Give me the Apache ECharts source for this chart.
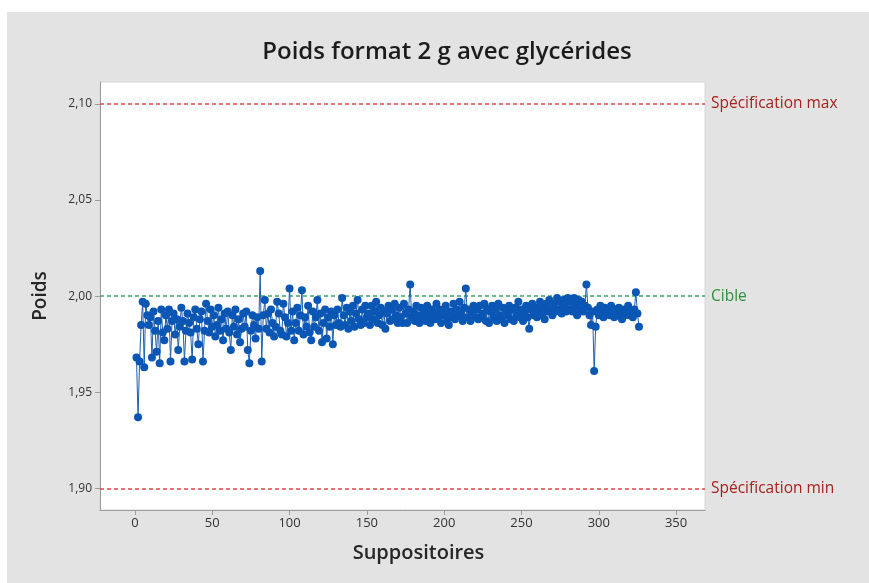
<!DOCTYPE html>
<html>
<head>
<meta charset="utf-8">
<script src="https://cdn.jsdelivr.net/npm/echarts@6/dist/echarts.min.js"></script>
<style>
  html, body { margin: 0; padding: 0; background: #ffffff; }
  #frame { position: absolute; left: 7px; top: 12px; width: 862px; height: 571px; background: #e3e3e3; }
  #chart { position: absolute; left: 0; top: 0; width: 869px; height: 583px; }
</style>
</head>
<body>
<div id="frame"></div>
<div id="chart"></div>
<script>
// Weight of each suppository (g), in production order
const weights = [
  1.968, 1.937, 1.966, 1.985, 1.997, 1.963, 1.996, 1.990, 1.985, 1.989,
  1.968, 1.992, 1.982, 1.971, 1.987, 1.965, 1.993, 1.981, 1.977, 1.990,
  1.983, 1.993, 1.966, 1.987, 1.991, 1.980, 1.988, 1.972, 1.984, 1.994,
  1.987, 1.966, 1.982, 1.991, 1.986, 1.981, 1.967, 1.989, 1.993, 1.983,
  1.975, 1.988, 1.992, 1.966, 1.982, 1.996, 1.987, 1.981, 1.993, 1.984,
  1.990, 1.979, 1.985, 1.994, 1.982, 1.988, 1.977, 1.991, 1.983, 1.992,
  1.981, 1.972, 1.990, 1.984, 1.993, 1.980, 1.988, 1.976, 1.983, 1.991,
  1.984, 1.992, 1.972, 1.965, 1.982, 1.990, 1.985, 1.978, 1.989, 1.983,
  2.013, 1.966, 1.990, 1.998, 1.983, 1.991, 1.981, 1.993, 1.986, 1.979,
  1.984, 1.997, 1.991, 1.982, 1.980, 1.996, 1.989, 1.979, 1.986, 2.004,
  1.982, 1.992, 1.977, 1.986, 1.994, 1.982, 1.990, 2.003, 1.980, 1.989,
  1.984, 1.995, 1.981, 1.977, 1.992, 1.984, 1.989, 1.998, 1.982, 1.991,
  1.976, 1.986, 1.993, 1.978, 1.989, 1.984, 1.992, 1.975, 1.990, 1.985,
  1.993, 1.986, 1.984, 1.999, 1.990, 1.985, 1.994, 1.983, 1.992, 1.987,
  1.995, 1.984, 1.991, 1.998, 1.988, 1.985, 1.993, 1.986, 1.995, 1.989,
  1.991, 1.985, 1.995, 1.988, 1.992, 1.997, 1.986, 1.990, 1.994, 1.985,
  1.992, 1.983, 1.991, 1.995, 1.987, 1.993, 1.988, 1.996, 1.990, 1.986,
  1.994, 1.989, 1.986, 1.996, 1.991, 1.986, 1.993, 2.006, 1.989, 1.992,
  1.987, 1.995, 1.990, 1.986, 1.994, 1.989, 1.992, 1.987, 1.995, 1.990,
  1.986, 1.993, 1.991, 1.988, 1.996, 1.989, 1.993, 1.986, 1.992, 1.990,
  1.995, 1.988, 1.985, 1.992, 1.989, 1.996, 1.988, 1.993, 1.990, 1.997,
  1.991, 1.987, 1.994, 2.004, 1.989, 1.993, 1.987, 1.992, 1.995, 1.989,
  1.993, 1.988, 1.995, 1.989, 1.991, 1.996, 1.987, 1.993, 1.986, 1.992,
  1.995, 1.989, 1.993, 1.987, 1.996, 1.990, 1.988, 1.994, 1.986, 1.993,
  1.990, 1.995, 1.988, 1.993, 1.987, 1.994, 1.990, 1.997, 1.989, 1.993,
  1.987, 1.991, 1.995, 1.989, 1.983, 1.993, 1.996, 1.990, 1.994, 1.989,
  1.993, 1.997, 1.990, 1.994, 1.988, 1.996, 1.992, 1.998, 1.993, 1.990,
  1.996, 1.992, 1.999, 1.993, 1.997, 1.991, 1.998, 1.995, 1.992, 1.999,
  1.993, 1.997, 1.992, 1.999, 1.995, 1.990, 1.998, 1.993, 1.997, 1.992,
  1.995, 2.006, 1.994, 1.990, 1.985, 1.992, 1.961, 1.984, 1.993, 1.990,
  1.995, 1.992, 1.989, 1.994, 1.991, 1.993, 1.990, 1.995, 1.992, 1.989,
  1.993, 1.990, 1.994, 1.991, 1.988, 1.993, 1.990, 1.992, 1.995, 1.990,
  1.992, 1.989, 1.993, 2.002, 1.991, 1.984
];

// Tick positions
const xTicks = [0, 50, 100, 150, 200, 250, 300, 350];
const yTicks = [1.90, 1.95, 2.00, 2.05, 2.10];

// Reference lines: specification limits and target
const specMax = 2.10;
const target = 2.00;
const specMin = 1.90;
const refLabels = ['Spécification max', 'Cible', 'Spécification min'];

const points = weights.map((w, i) => [i + 1, w]);
const fmtComma = v => v.toFixed(2).replace('.', ',');
const FONT = 'Open Sans';

const chart = echarts.init(document.getElementById('chart'), null, { renderer: 'canvas' });
chart.setOption({
  backgroundColor: 'transparent',
  animation: false,
  textStyle: { fontFamily: FONT },
  title: {
    text: 'Poids format 2 g avec glycérides',
    left: 442,
    textAlign: 'center',
    top: 35,
    textStyle: { fontFamily: FONT, fontSize: 24, fontWeight: 600, color: '#1c1c1c' }
  },
  grid: {
    left: 100, top: 82, width: 605, height: 428,
    show: true, backgroundColor: '#ffffff', borderWidth: 1, borderColor: '#d6d6d6'
  },
  xAxis: {
    type: 'value',
    min: -22.6, max: 368.7,
    name: 'Suppositoires',
    nameLocation: 'middle',
    nameGap: 33,
    nameTextStyle: { fontFamily: FONT, fontSize: 20, fontWeight: 600, color: '#262626', padding: [0, 0, 0, 32] },
    axisLine: { show: true, onZero: false, lineStyle: { color: '#9c9c9c', width: 1 } },
    axisTick: { show: true, customValues: xTicks, length: 5, lineStyle: { color: '#9c9c9c' } },
    axisLabel: { customValues: xTicks, fontSize: 13, color: '#333', margin: 7 },
    splitLine: { show: false }
  },
  yAxis: {
    type: 'value',
    min: 1.8887, max: 2.1114,
    name: 'Poids',
    nameLocation: 'middle',
    nameGap: 50,
    nameTextStyle: { fontFamily: FONT, fontSize: 19, fontWeight: 600, color: '#262626' },
    axisLine: { show: true, onZero: false, lineStyle: { color: '#9c9c9c', width: 1 } },
    axisTick: { show: true, customValues: yTicks, length: 5, lineStyle: { color: '#9c9c9c' } },
    axisLabel: { customValues: yTicks, fontSize: 12, color: '#333', margin: 8, formatter: fmtComma },
    splitLine: { show: false }
  },
  series: [{
    type: 'line',
    data: points,
    symbol: 'circle',
    symbolSize: 8,
    itemStyle: { color: '#0a56b4' },
    lineStyle: { color: '#1f5fae', width: 1 },
    z: 3,
    markLine: {
      silent: true,
      symbol: 'none',
      z: 2,
      label: { position: 'end', distance: 6, fontFamily: FONT, fontSize: 15.5 },
      data: [
        { yAxis: specMax, lineStyle: { color: '#e0454a', type: [4, 3], width: 1.5 },
          label: { formatter: refLabels[0], color: '#a8211d' } },
        { yAxis: target, lineStyle: { color: '#3aa86a', type: [4, 3], width: 1.5 },
          label: { formatter: refLabels[1], color: '#2f8f3e' } },
        { yAxis: specMin, lineStyle: { color: '#e0454a', type: [4, 3], width: 1.5 },
          label: { formatter: refLabels[2], color: '#a8211d' } }
      ]
    }
  }]
});
</script>
</body>
</html>
